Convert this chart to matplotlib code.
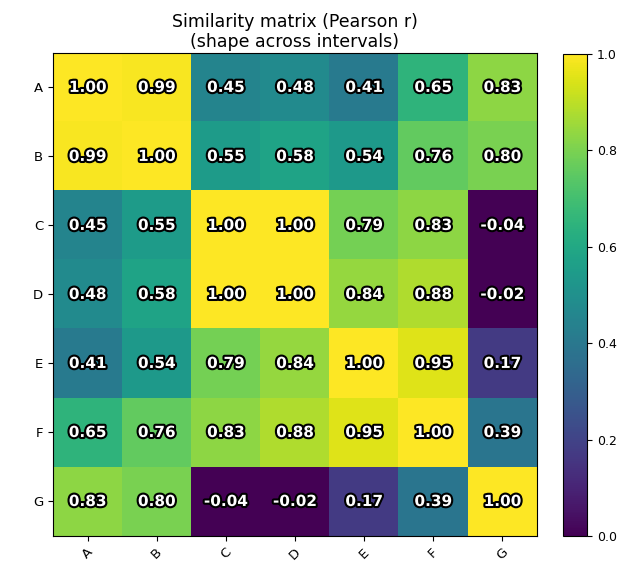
import numpy as np
import matplotlib.pyplot as plt
import matplotlib.patheffects as pe

# Etiquetas y matriz de similitud
etiquetas = ['A', 'B', 'C', 'D', 'E', 'F', 'G']
fila_A = [1.00, 0.99, 0.45, 0.48, 0.41, 0.65, 0.83]
fila_B = [0.99, 1.00, 0.55, 0.58, 0.54, 0.76, 0.80]
fila_C = [0.45, 0.55, 1.00, 1.00, 0.79, 0.83, -0.04]
fila_D = [0.48, 0.58, 1.00, 1.00, 0.84, 0.88, -0.02]
fila_E = [0.41, 0.54, 0.79, 0.84, 1.00, 0.95, 0.17]
fila_F = [0.65, 0.76, 0.83, 0.88, 0.95, 1.00, 0.39]
fila_G = [0.83, 0.80, -0.04, -0.02, 0.17, 0.39, 1.00]

matriz = np.array([fila_A, fila_B, fila_C, fila_D, fila_E, fila_F, fila_G])

fig = plt.figure(figsize=(6.35, 5.67), dpi=100)
ax = fig.add_axes([0.0835, 0.0547, 0.762, 0.852])
cax = fig.add_axes([0.887, 0.0547, 0.038, 0.850])

im = ax.imshow(matriz, cmap='viridis', vmin=0, vmax=1, aspect='auto')

ax.set_xticks(range(len(etiquetas)))
ax.set_yticks(range(len(etiquetas)))
ax.set_xticklabels(etiquetas, rotation=45, ha='center', fontsize=9.5)
ax.set_yticklabels(etiquetas, fontsize=9.5)
ax.set_title('Similarity matrix (Pearson r)\n(shape across intervals)', fontsize=12.5, pad=4)

# Valores en cada celda
for i in range(len(etiquetas)):
    for j in range(len(etiquetas)):
        ax.text(j, i, f'{matriz[i, j]:.2f}', ha='center', va='center',
                color='white', fontsize=11, fontweight='bold',
                path_effects=[pe.withStroke(linewidth=3, foreground='black')])

cb = fig.colorbar(im, cax=cax)
cb.ax.tick_params(labelsize=9)

fig.savefig('out.png', dpi=100)
